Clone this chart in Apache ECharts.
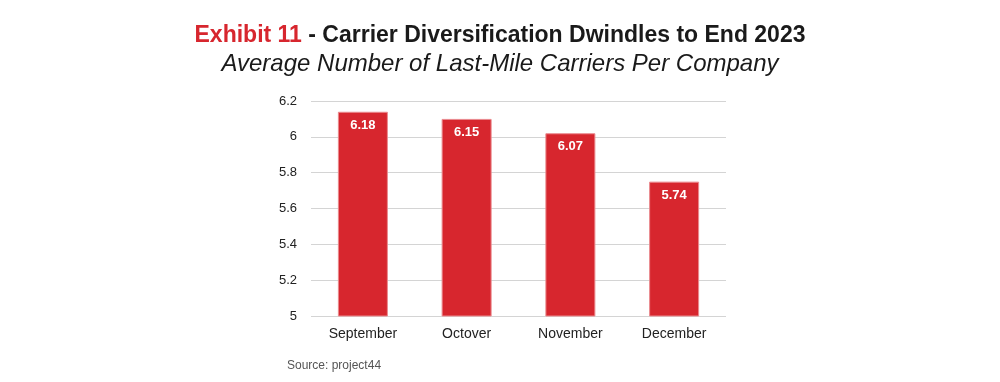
<!DOCTYPE html>
<html><head><meta charset="utf-8">
<script src="https://cdn.jsdelivr.net/npm/echarts@6/dist/echarts.min.js"></script>
<style>html,body{margin:0;padding:0;background:#fff}#c{width:1000px;height:382px}</style>
</head><body><div id="c"></div>
<script>
const categories = ['September', 'Octover', 'November', 'December'];
const barValues = [6.14, 6.10, 6.02, 5.75];
const barLabels = ['6.18', '6.15', '6.07', '5.74'];
const yTicks = [5, 5.2, 5.4, 5.6, 5.8, 6, 6.2];

const FF = "'Liberation Sans', Arial, sans-serif";
const chart = echarts.init(document.getElementById('c'), null, {renderer: 'canvas'});
chart.setOption({
  animation: false,
  backgroundColor: '#fff',
  title: [{
    text: '{r|Exhibit 11}{d| - Carrier Diversification Dwindles to End 2023}',
    left: 'center', top: 19,
    textStyle: {rich: {
      r: {color: '#d7262e', fontSize: 23, fontWeight: 'bold', fontFamily: FF},
      d: {color: '#1a1a1a', fontSize: 23, fontWeight: 'bold', fontFamily: FF}
    }}
  }, {
    text: 'Average Number of Last-Mile Carriers Per Company',
    left: 'center', top: 47,
    textStyle: {color: '#1a1a1a', fontSize: 24, fontWeight: 'normal', fontStyle: 'italic', fontFamily: FF}
  }, {
    text: 'Source: project44',
    left: 282, top: 355,
    textStyle: {color: '#555', fontSize: 12, fontWeight: 'normal', fontFamily: FF}
  }],
  grid: {left: 311, right: 274, top: 101, bottom: 66, containLabel: false},
  xAxis: {
    type: 'category', data: categories,
    axisLine: {show: false}, axisTick: {show: false},
    axisLabel: {color: '#222', fontSize: 14, fontFamily: FF, margin: 11}
  },
  yAxis: {
    type: 'value', min: yTicks[0], max: yTicks[yTicks.length - 1], interval: 0.2,
    axisLine: {show: false}, axisTick: {show: false},
    axisLabel: {color: '#222', fontSize: 13, fontFamily: FF, margin: 14,
      formatter: v => String(+v.toFixed(1))},
    splitLine: {lineStyle: {color: '#d4d4d4', width: 1}}
  },
  series: [{
    type: 'bar', barWidth: 50,
    data: barValues,
    itemStyle: {color: '#d7262e', borderColor: '#ea8a8e', borderWidth: 1},
    label: {show: true, position: 'insideTop', distance: 7, color: '#fff', fontSize: 13, fontWeight: 'bold',
      fontFamily: FF, formatter: p => barLabels[p.dataIndex]}
  }]
});
</script></body></html>
